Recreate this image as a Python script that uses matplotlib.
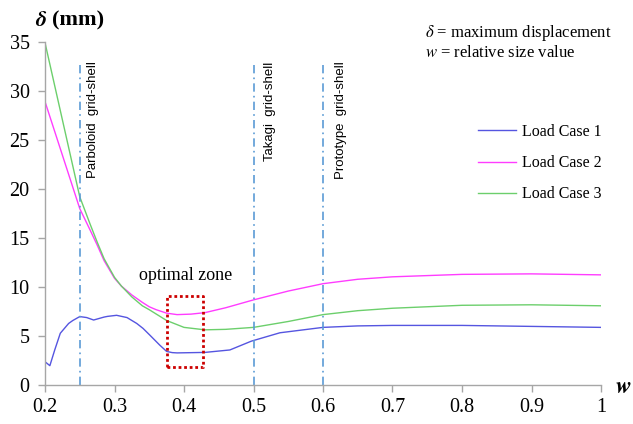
import matplotlib
matplotlib.use("Agg")
import matplotlib.pyplot as plt

plt.rcParams['mathtext.fontset'] = 'stix'

# ---- data ----
w_lc1 = [0.2, 0.207, 0.214, 0.222, 0.234, 0.24, 0.25, 0.26, 0.27, 0.285, 0.29, 0.303, 0.318, 0.332,
         0.341, 0.351, 0.358, 0.365, 0.375, 0.383, 0.39, 0.43, 0.466, 0.497, 0.538, 0.6, 0.65, 0.7,
         0.8, 0.9, 1.0]
lc1 = [2.4, 2.0, 3.6, 5.3, 6.3, 6.6, 7.0, 6.9, 6.65, 6.95, 7.02, 7.13, 6.9, 6.3,
       5.8, 5.1, 4.6, 4.1, 3.45, 3.33, 3.3, 3.35, 3.6, 4.5, 5.35, 5.9, 6.05, 6.1,
       6.1, 6.0, 5.9]

w_lc2 = [0.2, 0.25, 0.265, 0.275, 0.285, 0.3, 0.31, 0.325, 0.34, 0.35, 0.36, 0.375, 0.39, 0.41,
         0.43, 0.46, 0.5, 0.55, 0.6, 0.65, 0.7, 0.8, 0.9, 1.0]
lc2 = [28.9, 18.0, 15.8, 14.3, 12.7, 10.9, 10.1, 9.2, 8.45, 8.0, 7.7, 7.35, 7.2, 7.25,
       7.4, 7.9, 8.7, 9.6, 10.35, 10.8, 11.05, 11.3, 11.35, 11.25]

w_lc3 = [0.2, 0.25, 0.265, 0.275, 0.285, 0.3, 0.31, 0.325, 0.34, 0.35, 0.375, 0.4, 0.43, 0.46,
         0.5, 0.55, 0.6, 0.65, 0.7, 0.8, 0.9, 1.0]
lc3 = [34.9, 19.2, 16.4, 14.6, 12.9, 11.0, 10.1, 9.0, 8.1, 7.7, 6.6, 5.9, 5.65, 5.7,
       5.9, 6.5, 7.2, 7.6, 7.85, 8.15, 8.2, 8.1]

series_labels = ["Load Case 1", "Load Case 2", "Load Case 3"]
ref_w = [0.25, 0.5, 0.6]
ref_labels = ["Parboloid  grid-shell", "Takagi  grid-shell", "Prototype  grid-shell"]
ref_label_w = [0.269, 0.5237, 0.6263]
zone_w = [0.375, 0.427]
zone_d = [1.85, 9.1]
x_ticks = [0.2, 0.3, 0.4, 0.5, 0.6, 0.7, 0.8, 0.9, 1.0]
x_ticklabels = ["0.2", "0.3", "0.4", "0.5", "0.6", "0.7", "0.8", "0.9", "1"]
y_ticks = [0, 5, 10, 15, 20, 25, 30, 35]

serif = 'Liberation Serif'

fig = plt.figure(figsize=(6.33, 4.24), dpi=100)
ax = fig.add_axes([45/633, 1-385.3/424, 556/633, (385.3-41.7)/424])

ax.plot(w_lc1, lc1, color='#5555e0', lw=1.0, label=series_labels[0])
ax.plot(w_lc2, lc2, color='#ff3cff', lw=1.0, label=series_labels[1])
ax.plot(w_lc3, lc3, color='#6ccf6c', lw=1.0, label=series_labels[2])

for xv, lab, lx in zip(ref_w, ref_labels, ref_label_w):
    ax.plot([xv, xv], [0, 33], color='#5b9bd5', lw=1.2, linestyle=(0, (5, 2.5, 1, 2.5)))
    ax.text(lx, 33, lab, rotation=90, ha='center', va='top', fontsize=9.5,
            family='Liberation Sans')

ax.plot([zone_w[0], zone_w[1], zone_w[1], zone_w[0], zone_w[0]],
        [zone_d[0], zone_d[0], zone_d[1], zone_d[1], zone_d[0]],
        color='#cc0000', lw=2.0, linestyle=(0, (1, 1)))
ax.text(0.4025, 11.2, "optimal zone", ha='center', va='center', fontsize=13, family=serif)

ax.set_xlim(0.2, 1.0)
ax.set_ylim(0, 35)
ax.set_xticks(x_ticks)
ax.set_xticklabels(x_ticklabels, family=serif, fontsize=14.5)
ax.set_yticks(y_ticks)
ax.set_yticklabels([str(v) for v in y_ticks], family=serif, fontsize=14.5)
for s in ['top', 'right']:
    ax.spines[s].set_visible(False)
for s in ['left', 'bottom']:
    ax.spines[s].set_color('#a6a6a6')
    ax.spines[s].set_linewidth(1.0)
ax.tick_params(axis='both', colors='#a6a6a6', labelcolor='black', length=5, width=1.0, direction='out')
ax.tick_params(axis='y', pad=6)
ax.tick_params(axis='x', pad=4)

fig.text(35/633, 1-20/424, r"$\boldsymbol{\delta}$", fontsize=16, va='center', ha='left')
fig.text(52/633, 1-20/424, "(mm)", fontsize=16, fontweight='bold', family=serif, va='center', ha='left')
fig.text(623/633, 1-386/424, r"$\boldsymbol{w}$", fontsize=17, va='center', ha='center')

fig.text(425/633, 1-33/424, r"$\delta$ = maximum displacement", fontsize=12, family=serif, va='center', ha='left')
fig.text(425/633, 1-53/424, r"$w$ = relative size value", fontsize=12, family=serif, va='center', ha='left')

leg = ax.legend(loc='upper left', bbox_to_anchor=((478-45)/556, (385.3-124)/343.6), frameon=False,
                prop={'family': serif, 'size': 11.5}, handlelength=2.4, handletextpad=0.35,
                labelspacing=0.95, borderaxespad=0, borderpad=0)

fig.savefig("out.png", dpi=100)
